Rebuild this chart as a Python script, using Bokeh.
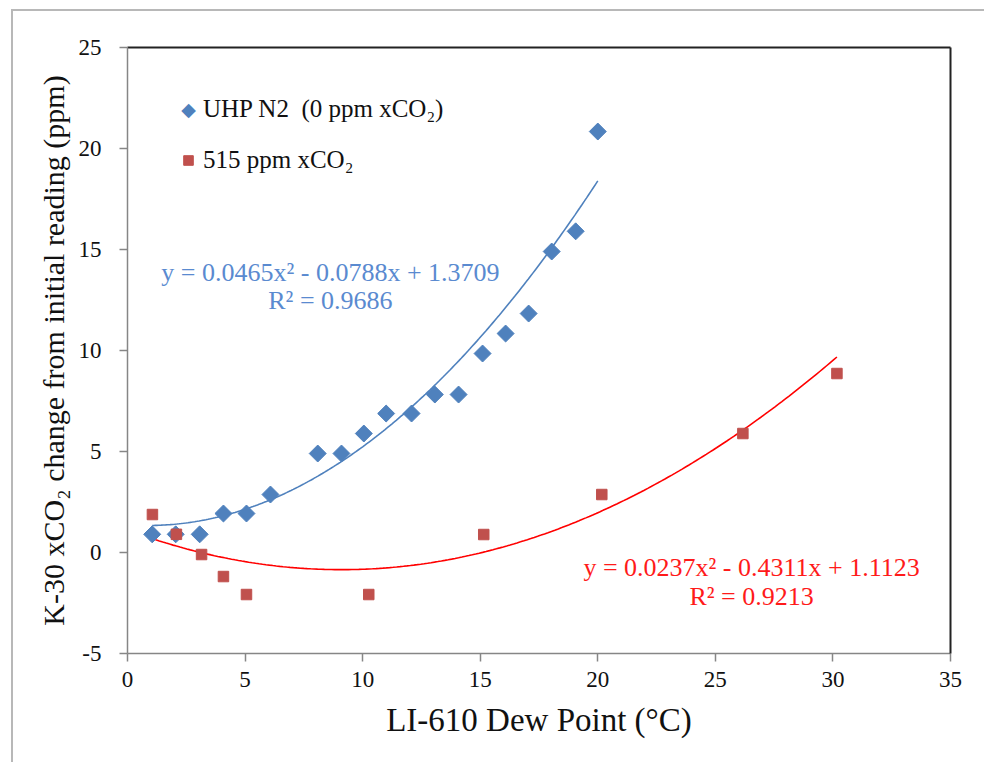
import numpy as np
from bokeh.plotting import figure
from bokeh.models import (ColumnDataSource, LinearAxis, FixedTicker, Legend, LegendItem,
                          Label)
from bokeh.core.properties import value
from bokeh.embed import file_html
from bokeh.resources import INLINE

# ---------------- data ----------------
n2_x = [1.05, 2.05, 3.07, 4.08, 5.06, 6.08, 8.09, 9.10, 10.05, 11.00, 12.08,
        13.07, 14.08, 15.10, 16.08, 17.06, 18.04, 19.06, 20.00]
n2_y = [0.90, 0.90, 0.90, 1.93, 1.93, 2.87, 4.90, 4.90, 5.89, 6.88, 6.88,
        7.82, 7.82, 9.85, 10.84, 11.83, 14.90, 15.90, 20.84]

co2_x = [1.06, 2.08, 3.15, 4.08, 5.06, 10.26, 15.15, 20.17, 26.17, 30.17]
co2_y = [1.88, 0.90, -0.10, -1.19, -2.08, -2.08, 0.89, 2.87, 5.89, 8.86]

# polynomial trendline coefficients (as printed on the chart)
n2_coef = [0.0465, -0.0788, 1.3709]
n2_r2 = 0.9686
co2_coef = [0.0237, -0.4311, 1.1123]
co2_r2 = 0.9213

x_ticks = [0, 5, 10, 15, 20, 25, 30, 35]
y_ticks = [-5, 0, 5, 10, 15, 20, 25]

legend_labels = ["UHP N2  (0 ppm xCO\u2082)", "515 ppm xCO\u2082"]
x_title = "LI-610 Dew Point (\u00b0C)"
y_title = "K-30 xCO\u2082 change from initial reading (ppm)"

BLUE = "#4f81bd"
RED = "#c0504d"
FONT = "Liberation Serif"


def eq_text(coef):
    a, b, c = coef
    sb = "-" if b < 0 else "+"
    sc = "-" if c < 0 else "+"
    return f"y = {a:.4f}x\u00b2 {sb} {abs(b):.4f}x {sc} {abs(c):.4f}"


GRAY = "#b8b8b8"
border_css = (f"linear-gradient({GRAY},{GRAY}) 11px 9px / 2px 100% no-repeat, "
              f"linear-gradient({GRAY},{GRAY}) 11px 9px / 100% 2px no-repeat, white")

p = figure(frame_width=823, frame_height=606,
           x_range=(0, 35), y_range=(-5, 25),
           output_backend="svg", toolbar_location=None,
           min_border_left=127, min_border_top=47,
           min_border_right=34, min_border_bottom=109,
           background_fill_color="white", border_fill_color=None,
           outline_line_color=None,
           styles={"background": border_css})

p.xgrid.visible = False
p.ygrid.visible = False

for ax, ticks in ((p.xaxis[0], x_ticks), (p.yaxis[0], y_ticks)):
    ax.ticker = FixedTicker(ticks=ticks)
    ax.major_label_overrides = {t: str(t) for t in ticks}
    ax.axis_line_color = "#868686"
    ax.axis_line_width = 1.5
    ax.major_tick_line_color = "#868686"
    ax.major_tick_line_width = 1.5
    ax.major_tick_in = 0
    ax.major_tick_out = 8
    ax.minor_tick_line_color = None
    ax.major_label_text_font = FONT
    ax.major_label_text_font_size = "23px"
    ax.major_label_text_color = "#111111"
    ax.axis_label_text_font = FONT
    ax.axis_label_text_font_style = "normal"
    ax.axis_label_text_color = "#111111"

p.xaxis[0].axis_label = x_title
p.xaxis[0].axis_label_text_font_size = "33px"
p.xaxis[0].major_label_standoff = 10
p.xaxis[0].axis_label_standoff = 12
p.yaxis[0].axis_label = y_title
p.yaxis[0].axis_label_text_font_size = "30px"
p.yaxis[0].major_label_standoff = 18
p.yaxis[0].axis_label_standoff = 6

# dark frame lines on top and right
for side in ("above", "right"):
    ax = LinearAxis(ticker=FixedTicker(ticks=[]), axis_line_color="#222222",
                    axis_line_width=2, major_tick_line_color=None,
                    minor_tick_line_color=None, major_label_text_font_size="0px")
    p.add_layout(ax, side)

# trendlines
xs1 = np.linspace(min(n2_x), max(n2_x), 200)
xs2 = np.linspace(min(co2_x), max(co2_x), 200)
p.line(xs1, np.polyval(n2_coef, xs1), line_color=BLUE, line_width=1.6)
p.line(xs2, np.polyval(co2_coef, xs2), line_color="#ff0000", line_width=1.6)

# points
src1 = ColumnDataSource(dict(x=n2_x, y=n2_y))
src2 = ColumnDataSource(dict(x=co2_x, y=co2_y))
r1 = p.scatter("x", "y", source=src1, marker="square", size=12, angle=np.pi / 4,
               fill_color=BLUE, line_color=BLUE)
r2 = p.scatter("x", "y", source=src2, marker="square", size=10.5,
               fill_color=RED, line_color=RED)

# equation texts
p.text(x=[8.63, 8.63], y=[13.86, 12.50],
       text=[eq_text(n2_coef), f"R\u00b2 = {n2_r2:.4f}"],
       text_align="center", text_baseline="middle",
       text_font=value(FONT), text_font_size="26px", text_color="#5a8ad0")
p.text(x=[26.54, 26.54], y=[-0.74, -2.18],
       text=[eq_text(co2_coef), f"R\u00b2 = {co2_r2:.4f}"],
       text_align="center", text_baseline="middle",
       text_font=value(FONT), text_font_size="26px", text_color="#ff1a1a")

# legend (legend glyphs ignore marker rotation, so the diamond symbol is a label)
leg_dummy = p.scatter(x=[np.nan], y=[np.nan], marker="square", size=1,
                      fill_alpha=0, line_alpha=0)
legend = Legend(items=[LegendItem(label=legend_labels[0], renderers=[leg_dummy]),
                       LegendItem(label=legend_labels[1], renderers=[r2])],
                location=(49, 479), padding=0, margin=0, spacing=23,
                glyph_width=24, glyph_height=24, label_standoff=3,
                label_text_font=FONT, label_text_font_size="25px",
                label_text_color="#111111",
                border_line_color=None, background_fill_alpha=0)
p.add_layout(legend)
p.add_layout(Label(x=2.594, y=21.98, text="\u25c6", text_align="center",
                   text_baseline="middle", text_font="DejaVu Sans",
                   text_font_size="19px", text_color=BLUE))

open("out.html", "w").write(file_html(p, INLINE))
